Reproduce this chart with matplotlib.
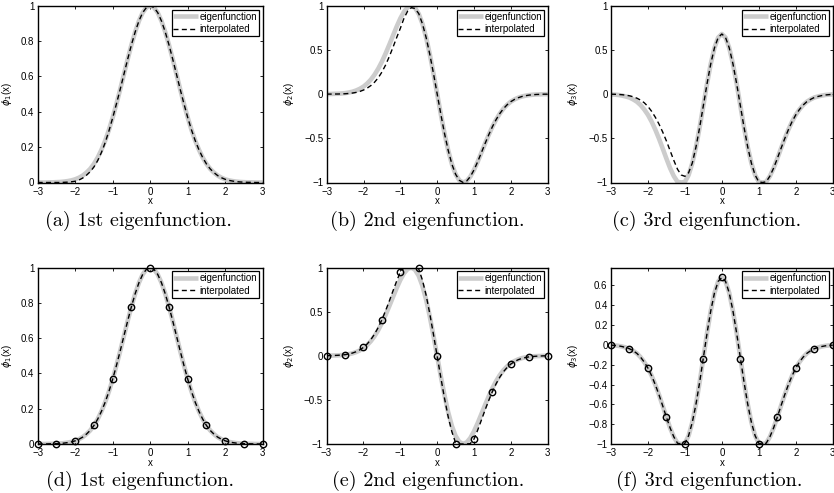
import numpy as np
import matplotlib
matplotlib.use("Agg")
import matplotlib.pyplot as plt
import matplotlib.transforms as mtransforms

plt.rcParams['font.family'] = ['Liberation Sans', 'DejaVu Sans']
plt.rcParams['mathtext.fontset'] = 'dejavusans'

# ---------------- data ----------------
x = np.round(np.arange(-30, 31) / 10.0, 1)          # sample positions -3 .. 3
x_nodes = [-3, -2.5, -2, -1.5, -1, -0.5, 0, 0.5, 1, 1.5, 2, 2.5, 3]

phi1_eig = [0.000, 0.000, 0.000, 0.001, 0.001, 0.002, 0.003, 0.005, 0.008, 0.012,
            0.018, 0.027, 0.039, 0.056, 0.077, 0.105, 0.141, 0.185, 0.237, 0.298,
            0.368, 0.445, 0.527, 0.613, 0.698, 0.779, 0.852, 0.914, 0.961, 0.990,
            1.000,
            0.990, 0.961, 0.914, 0.852, 0.779, 0.698, 0.613, 0.527, 0.445, 0.368,
            0.298, 0.237, 0.185, 0.141, 0.105, 0.077, 0.056, 0.039, 0.027, 0.018,
            0.012, 0.008, 0.005, 0.003, 0.002, 0.001, 0.001, 0.000, 0.000, 0.000]

phi1_int_top = [0.000, 0.000, 0.000, 0.000, 0.000, 0.000, 0.000, 0.001, 0.002, 0.004,
                0.007, 0.014, 0.025, 0.041, 0.061, 0.088, 0.124, 0.170, 0.226, 0.292,
                0.366, 0.445, 0.527, 0.613, 0.698, 0.779, 0.852, 0.914, 0.961, 0.990,
                1.000,
                0.990, 0.961, 0.914, 0.852, 0.779, 0.698, 0.613, 0.527, 0.445, 0.368,
                0.298, 0.237, 0.185, 0.141, 0.105, 0.077, 0.056, 0.039, 0.027, 0.018,
                0.012, 0.008, 0.005, 0.003, 0.002, 0.001, 0.001, 0.000, 0.000, 0.000]

phi2_eig = [0.001, 0.001, 0.003, 0.004, 0.007, 0.011, 0.018, 0.027, 0.041, 0.060,
            0.085, 0.120, 0.164, 0.220, 0.288, 0.368, 0.460, 0.559, 0.662, 0.764,
            0.857, 0.933, 0.983, 0.999, 0.975, 0.907, 0.794, 0.639, 0.448, 0.231,
            0.000,
            -0.231, -0.448, -0.639, -0.794, -0.907, -0.975, -0.999, -0.983, -0.933, -0.857,
            -0.764, -0.662, -0.559, -0.460, -0.368, -0.288, -0.220, -0.164, -0.120, -0.085,
            -0.060, -0.041, -0.027, -0.018, -0.011, -0.007, -0.004, -0.003, -0.001, -0.001]

phi2_int_top = [0.000, 0.000, 0.001, 0.001, 0.002, 0.004, 0.007, 0.012, 0.019, 0.030,
                0.046, 0.068, 0.097, 0.135, 0.185, 0.250, 0.330, 0.425, 0.530, 0.640,
                0.745, 0.860, 0.940, 0.978, 0.968, 0.910, 0.794, 0.639, 0.448, 0.231,
                0.000,
                -0.231, -0.448, -0.639, -0.794, -0.907, -0.975, -0.999, -0.983, -0.933, -0.857,
                -0.764, -0.662, -0.559, -0.460, -0.368, -0.288, -0.220, -0.164, -0.120, -0.085,
                -0.060, -0.041, -0.027, -0.018, -0.011, -0.007, -0.004, -0.003, -0.001, -0.001]

phi2_int_bot = [0.001, 0.001, 0.003, 0.005, 0.008, 0.012, 0.020, 0.030, 0.045, 0.066,
                0.094, 0.132, 0.181, 0.243, 0.318, 0.406, 0.507, 0.616, 0.731, 0.843,
                0.945, 0.995, 1.000, 1.000, 1.000, 0.985, 0.860, 0.690, 0.480, 0.245,
                0.000,
                -0.245, -0.480, -0.690, -0.860, -0.985, -1.000, -1.000, -1.000, -0.995, -0.945,
                -0.843, -0.731, -0.616, -0.507, -0.406, -0.318, -0.243, -0.181, -0.132, -0.094,
                -0.066, -0.045, -0.030, -0.020, -0.012, -0.008, -0.005, -0.003, -0.001, -0.001]

phi3_eig = [-0.003, -0.006, -0.010, -0.017, -0.027, -0.039, -0.060, -0.086, -0.124, -0.174,
            -0.235, -0.312, -0.403, -0.505, -0.616, -0.730, -0.838, -0.928, -0.992, -1.000,
            -0.993, -0.916, -0.782, -0.598, -0.375, -0.129, 0.119, 0.343, 0.523, 0.640,
            0.680,
            0.640, 0.523, 0.343, 0.119, -0.129, -0.375, -0.598, -0.782, -0.916, -0.993,
            -1.000, -0.992, -0.928, -0.838, -0.730, -0.616, -0.505, -0.403, -0.312, -0.235,
            -0.174, -0.124, -0.086, -0.060, -0.039, -0.027, -0.017, -0.010, -0.006, -0.003]

phi3_int_top = [-0.001, -0.002, -0.004, -0.007, -0.012, -0.019, -0.030, -0.046, -0.068, -0.098,
                -0.140, -0.195, -0.262, -0.340, -0.430, -0.530, -0.640, -0.750, -0.850, -0.915,
                -0.930, -0.890, -0.780, -0.598, -0.375, -0.129, 0.119, 0.343, 0.523, 0.640,
                0.680,
                0.640, 0.523, 0.343, 0.119, -0.129, -0.375, -0.598, -0.782, -0.916, -0.993,
                -1.000, -0.992, -0.928, -0.838, -0.730, -0.616, -0.505, -0.403, -0.312, -0.235,
                -0.174, -0.124, -0.086, -0.060, -0.039, -0.027, -0.017, -0.010, -0.006, -0.003]

nodes1 = [0.000, 0.002, 0.018, 0.105, 0.368, 0.779, 1.000, 0.779, 0.368, 0.105, 0.018, 0.002, 0.000]
nodes2 = [0.000, 0.010, 0.095, 0.410, 0.945, 1.000, 0.000, -1.000, -0.940, -0.410, -0.095, -0.010, 0.000]
nodes3 = [0.000, -0.040, -0.237, -0.730, -1.000, -0.142, 0.685, -0.142, -1.000, -0.730, -0.237, -0.040, 0.000]

captions = ["(a) 1st eigenfunction.", "(b) 2nd eigenfunction.", "(c) 3rd eigenfunction.",
            "(d) 1st eigenfunction.", "(e) 2nd eigenfunction.", "(f) 3rd eigenfunction."]
ylabels = [r"$\phi_1$(x)", r"$\phi_2$(x)", r"$\phi_3$(x)"]
legend_labels = ["eigenfunction", "interpolated"]
xticks = [-3, -2, -1, 0, 1, 2, 3]
yticks_01 = [0, 0.2, 0.4, 0.6, 0.8, 1]
yticks_11 = [-1, -0.5, 0, 0.5, 1]
yticks_f = [-1, -0.8, -0.6, -0.4, -0.2, 0, 0.2, 0.4, 0.6]

# ---------------- layout ----------------
W, H = 834, 493
fig = plt.figure(figsize=(W / 100, H / 100), dpi=100)

def add_ax(l, r, t, b):
    return fig.add_axes([l / W, 1 - b / H, (r - l) / W, (b - t) / H])

rects = [(37.7, 262.7, 5.7, 182.5), (326.7, 547.7, 5.7, 182.5), (611, 832.7, 5.7, 182.5),
         (37.7, 262.7, 267.5, 444), (326.5, 547.7, 267.5, 444), (611, 832.7, 267.5, 444)]
ylabel_px = [14.0, 296.0, 580.0, 14.0, 296.0, 580.0]
caption_pos = [(138, 221), (427, 221), (707, 221), (140, 481), (428, 481), (709, 481)]

panels = [
    (phi1_eig, phi1_int_top, None, (0, 1), yticks_01),
    (phi2_eig, phi2_int_top, None, (-1, 1), yticks_11),
    (phi3_eig, phi3_int_top, None, (-1, 1), yticks_11),
    (phi1_eig, phi1_eig, nodes1, (0, 1), yticks_01),
    (phi2_eig, phi2_int_bot, nodes2, (-1, 1), yticks_11),
    (phi3_eig, phi3_eig, nodes3, (-1, 0.78), yticks_f),
]

def fmt(v):
    s = ("%g" % v)
    return s.replace("-", "\u2212")

FS = 7
for i, (eig, interp, nodes, ylim, yt) in enumerate(panels):
    l, r, t, b = rects[i]
    ax = add_ax(l, r, t, b)
    ax.plot(x, eig, color="#cccccc", lw=3.3, solid_capstyle="butt", label=legend_labels[0])
    ax.plot(x, interp, color="black", lw=1.0, dashes=(3.6, 2.4), label=legend_labels[1])
    if nodes is not None:
        ax.plot(x_nodes, nodes, linestyle="none", marker="o", ms=4.6, mfc="none",
                mec="black", mew=1.0, clip_on=False, zorder=5)
    ax.set_xlim(-3, 3)
    ax.set_ylim(*ylim)
    ax.set_xticks(xticks)
    ax.set_xticklabels([fmt(v) for v in xticks])
    ax.set_yticks(yt)
    ax.set_yticklabels([fmt(v) for v in yt])
    ax.tick_params(direction="in", length=2.2, width=0.6, top=True, right=True,
                   labelsize=FS)
    ax.tick_params(axis="x", pad=3.0)
    ax.tick_params(axis="y", pad=2.5)
    for s in ax.spines.values():
        s.set_linewidth(1.0)
    ax.set_xlabel("x", fontsize=FS)
    ax.xaxis.set_label_coords(0.5, -14.0 / (b - t))
    ax.set_ylabel(ylabels[i % 3], fontsize=FS)
    tr = mtransforms.blended_transform_factory(fig.transFigure, ax.transAxes)
    ax.yaxis.set_label_coords(ylabel_px[i] / W, 0.5, transform=tr)
    leg = ax.legend(loc="upper right", fontsize=FS, fancybox=False, framealpha=1,
                    edgecolor="black", handlelength=2.5, handletextpad=0.15,
                    borderpad=0.2, labelspacing=0.25, borderaxespad=0.4)
    leg.get_frame().set_linewidth(0.9)
    cx, cy = caption_pos[i]
    fig.text(cx / W, 1 - cy / H, captions[i], fontfamily="cmr10", fontsize=14.5,
             ha="center", va="center")

fig.savefig("out.png", dpi=100)
